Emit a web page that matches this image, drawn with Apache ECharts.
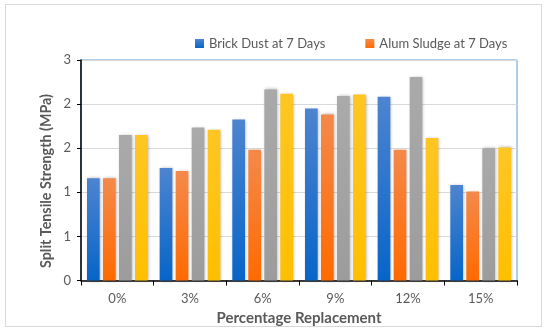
<!DOCTYPE html>
<html>
<head>
<meta charset="utf-8">
<script src="https://cdn.jsdelivr.net/npm/echarts@6/dist/echarts.min.js"></script>
<style>
html,body{margin:0;padding:0;background:#fff;}
#frame{position:absolute;left:5px;top:4px;width:537px;height:323px;border:1px solid #d9d9d9;box-sizing:border-box;}
#chart{position:absolute;left:0;top:0;width:550px;height:334px;}
</style>
</head>
<body>
<div id="frame"></div>
<div id="chart"></div>
<script>
const categories = ['0%', '3%', '6%', '9%', '12%', '15%'];
const brickDust7 = [1.39, 1.53, 2.19, 2.34, 2.50, 1.30];
const alumSludge7 = [1.39, 1.49, 1.78, 2.26, 1.78, 1.21];
const series3 = [1.98, 2.08, 2.60, 2.51, 2.77, 1.80];
const series4 = [1.98, 2.05, 2.54, 2.53, 1.94, 1.81];
const yTicks = { min: 0, max: 3, interval: 0.6 };
const yTitle = 'Split Tensile Strength (MPa)';
const xTitle = 'Percentage Replacement';

const font = 'Lato, "Open Sans", sans-serif';
function grad(top, bottom) {
  return new echarts.graphic.LinearGradient(0, 0, 0, 1, [
    { offset: 0, color: top }, { offset: 1, color: bottom }
  ]);
}
function bar(name, data, top, bottom) {
  return {
    name: name, type: 'bar', data: data, barWidth: 12.7, barGap: '26%',
    itemStyle: {
      color: grad(top, bottom),
      shadowBlur: 3, shadowColor: 'rgba(0,0,0,0.3)', shadowOffsetX: 1, shadowOffsetY: 0
    }
  };
}
const chart = echarts.init(document.getElementById('chart'), null, { renderer: 'canvas' });
chart.setOption({
  animation: false,
  backgroundColor: 'transparent',
  textStyle: { fontFamily: font },
  legend: {
    data: ['Brick Dust at 7 Days', 'Alum Sludge at 7 Days'],
    top: 32, left: 190, itemGap: 40,
    itemWidth: 9, itemHeight: 9, icon: 'rect',
    textStyle: { fontFamily: font, fontSize: 13, color: '#595959' }
  },
  grid: {
    left: 81, right: 33, top: 60, bottom: 53.5,
    show: true, borderColor: '#5b9bd5', borderWidth: 1, containLabel: false
  },
  graphic: [{
    type: 'text', x: 46, y: 181, rotation: Math.PI / 2,
    style: { text: yTitle, fontFamily: font, fontSize: 14.3, fontWeight: 'bold',
      fill: '#595959', align: 'center', verticalAlign: 'middle' }
  }],
  xAxis: {
    type: 'category', data: categories,
    name: xTitle, nameLocation: 'middle', nameGap: 30,
    nameTextStyle: { fontFamily: font, fontSize: 15, fontWeight: 'bold', color: '#595959' },
    axisLine: { lineStyle: { color: '#000', width: 1.5 } },
    axisTick: { show: true, length: 5, lineStyle: { color: '#000' } },
    axisLabel: { fontFamily: font, fontSize: 13, color: '#595959', margin: 12 }
  },
  yAxis: {
    type: 'value', min: yTicks.min, max: yTicks.max, interval: yTicks.interval,
    axisLine: { show: true, lineStyle: { color: '#000', width: 1.5 } },
    axisTick: { show: true, length: 4, lineStyle: { color: '#000' } },
    axisLabel: { fontFamily: font, fontSize: 13, color: '#595959', margin: 10,
      formatter: v => String(Math.round(v)) },
    splitLine: { lineStyle: { color: '#d9d9d9' } }
  },
  series: [
    bar('Brick Dust at 7 Days', brickDust7, '#4d84d0', '#0765c8'),
    bar('Alum Sludge at 7 Days', alumSludge7, '#f4894b', '#ff6a00'),
    bar('Series 3', series3, '#aaaaaa', '#9c9c9c'),
    bar('Series 4', series4, '#ffc623', '#ffbf00')
  ]
});
</script>
</body>
</html>
